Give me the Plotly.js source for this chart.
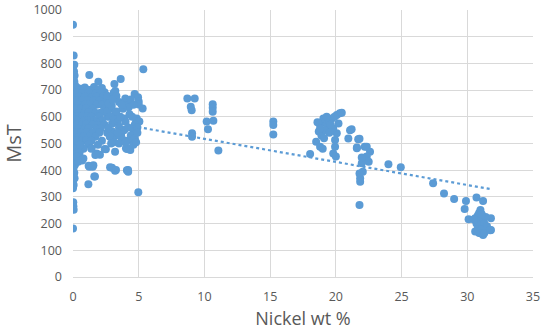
<!DOCTYPE html>
<html>
<head>
<meta charset="utf-8">
<script src="https://cdn.plot.ly/plotly-3.0.1.min.js"></script>
<style>html,body{margin:0;padding:0;background:#fff;}#chart{width:545px;height:332px;}</style>
</head>
<body>
<div id="chart"></div>
<script>
// Column of samples at ~0 wt% Ni
var zeroNi = [0,0.05,0.1,0,0.08,0,0.12,0.05,0,0.1,0.03,0.15,0,0.08,0.12,0,0.05,0.1,0,0.15,0.05,0,0.1,0.03,0.12,0,0.08,0.05,0.1,0,0.15,0.05,0,0.1,0.03,0.12,0,0.08,0.05,0.1,0,0.15,0.05,0,0.1,0.03,0.12,0,0.05,0,0.02,0.03,0.05,0];
var zeroMsT = [945,830,795,780,770,762,755,748,740,732,725,718,710,700,690,680,670,660,650,640,630,620,610,600,590,580,570,560,550,540,530,520,510,500,490,480,470,460,450,440,430,420,410,400,390,380,370,360,345,332,280,265,252,182];

// Dense low-Ni block (0.2 - 2.8 wt%)
var lowNi = [0.3,0.6,0.9,1.3,1.6,2.2, 0.4,0.8,1.1,1.5,1.9,2.4, 0.3,0.7,1.2,1.7,2.1, 0.5,0.9,1.4,1.8,2.3,2.6,
             0.3,0.7,1.1,1.6,2.0,2.5, 0.4,0.9,1.3,1.8,2.2, 0.3,0.6,1.0,1.5,2.4,2.8, 0.5,0.9,1.2,1.7,2.1,
             0.3,0.7,1.1,1.4,2.0,2.6, 0.4,0.8,1.3,1.6,2.2, 0.3,0.7,1.0,1.5,1.9,2.4, 0.4,0.9,1.2,1.8,2.1,
             0.3,0.6,1.1,1.5,2.0,2.6, 0.5,0.8,1.3,1.7, 0.3,0.7,1.0,1.4,2.2, 0.4,0.6,1.2,1.9, 0.3,0.8,1.4, 0.3,0.5, 0.3];
var lowMsT = [710,705,710,700,712,708, 700,698,700,695,700,692, 690,688,690,686,690, 675,675,672,675,675,672,
              660,660,662,660,660,658, 645,645,648,645,645, 630,630,632,630,630,630, 615,615,618,615,615,
              600,600,602,600,600,600, 585,585,588,585,585, 570,570,572,570,570,570, 555,555,558,555,555,
              540,540,542,540,540,540, 525,525,528,525, 510,510,512,510,510, 495,495,497,495, 480,480,482, 465,465, 450];

// Scattered samples 0.4 - 5.4 wt%
var scatNi = [1.24,1.93,3.63,3.15,5.35,3.22,3.1,2.59,3.3,3.98,4.69,4.95,4.1,4.24,5.0,5.0,5.3,4.85,3.9,4.0,3.2,2.6,2.95,4.6,3.9,3.66,2.96,3.2,3.7,4.8,5.05,4.49,4.1,3.86,4.36,4.1,4.03,4.32,3.2,2.5,2.05,1.8,1.7,2.41,0.79,0.7,0.4,1.24,1.55,1.19,1.5,1.62,1.67,1.17,2.82,3.2,2.97,3.27,4.19,4.1,4.2,4.97,0.53,1.4,
              2.8,3.1,3.4,3.6,3.3,3.8,4.3,4.5,4.7,2.7,3.0,3.5,4.2,4.9,4.4,4.7,4.9,3.4,2.8,3.1,3.5,4.0,4.6,4.8,2.7,3.5,3.0,4.4,4.6,3.7,2.9];
var scatMsT = [757,731,742,723,778,697,690,679,678,669,685,673,644,636,657,646,631,594,594,581,613,619,640,551,551,533,546,528,521,582,582,513,510,551,476,479,482,482,469,478,458,463,457,479,444,436,432,413,419,417,413,376,376,347,411,398,409,401,401,400,394,317,494,480,
               600,590,580,600,620,630,610,600,570,560,575,560,560,560,530,520,540,540,525,505,500,505,495,505,650,655,665,665,645,645,500];

// Intermediate Ni 8 - 18 wt%
var midNi = [8.7,9.26,8.96,9.03,9.06,9.06,10.63,10.63,10.63,10.17,10.68,10.27,11.06,15.24,15.24,15.24,18.04];
var midMsT = [669,669,638,625,538,525,647,634,619,582,585,553,474,582,569,534,461];

// High Ni cluster 18 - 25 wt%
var highNi = [18.5,18.8,19.0,19.8,20.0,19.94,19.94,20.07,19.8,19.4,18.8,19.3,19.05,19.7,20.07,20.3,20.45,18.7,18.9,19.2,19.5,19.1,18.6,19.5,20.2,19.9,19.3,18.8,19.6,
              21.08,20.95,21.2,21.7,21.8,21.6,21.6,22.2,22.35,22.6,22.35,22.1,22.5,21.97,21.97,22.05,21.85,21.85,21.8,21.8,24.0,24.94];
var highMsT = [507,488,480,463,451,488,513,538,557,560,569,575,594,594,607,613,615,545,530,550,540,520,580,585,575,600,600,555,570,
               550,519,553,516,518,482,485,488,488,469,451,444,432,426,448,394,370,357,388,270,422,411];

// Very high Ni 27 - 32 wt%
var vhNi = [27.4,28.23,29.0,29.9,29.8,30.7,31.2,30.1,31.8,31.8,31.2,31.0,31.03,30.6,30.8,30.9,31.0,31.2,31.4,30.7,31.0,31.3,30.8,31.1,31.5,30.9,31.3,30.6,31.1,30.5,31.75];
var vhMsT = [351,313,292,285,255,298,285,216,220,176,157,251,164,220,230,240,210,215,225,200,195,200,180,180,190,165,165,170,235,215,175];

// Linear trendline endpoints
var trendNi = [0, 31.8];
var trendMsT = [604, 329];

var xTicks = [0,5,10,15,20,25,30,35];
var yTicks = [0,100,200,300,400,500,600,700,800,900,1000];

var allNi = [].concat(zeroNi, lowNi, scatNi, midNi, highNi, vhNi);
var allMsT = [].concat(zeroMsT, lowMsT, scatMsT, midMsT, highMsT, vhMsT);

var blue = '#5B9BD5';
var font = 'Open Sans, Liberation Sans, sans-serif';

var traces = [
  {x: allNi, y: allMsT, type: 'scatter', mode: 'markers',
   marker: {color: blue, size: 8}, hoverinfo: 'x+y'},
  {x: trendNi, y: trendMsT, type: 'scatter', mode: 'lines',
   line: {color: blue, width: 2.2, dash: 'dot'}, hoverinfo: 'skip'}
];

var layout = {
  width: 545, height: 332,
  margin: {l: 73, r: 12, t: 10, b: 55},
  paper_bgcolor: '#fff', plot_bgcolor: '#fff',
  showlegend: false,
  font: {family: font, color: '#595959', size: 12},
  xaxis: {
    range: [0, 35], tickvals: xTicks, ticktext: xTicks.map(String),
    showgrid: true, gridcolor: '#d9d9d9', gridwidth: 1,
    zeroline: false, showline: true, linecolor: '#d9d9d9', linewidth: 1,
    ticks: '', ticklabelstandoff: 8, tickfont: {family: font, size: 12.5, color: '#595959'},
    title: {text: 'Nickel wt %', font: {family: font, size: 18, color: '#595959'}, standoff: 8},
    fixedrange: true
  },
  yaxis: {
    range: [0, 1000], tickvals: yTicks, ticktext: yTicks.map(String),
    showgrid: true, gridcolor: '#d9d9d9', gridwidth: 1,
    zeroline: false, showline: false,
    ticks: '', ticklabelstandoff: 10, tickfont: {family: font, size: 12.5, color: '#595959'},
    title: {text: 'MsT', font: {family: font, size: 20, color: '#595959'}, standoff: 10},
    fixedrange: true
  }
};

Plotly.newPlot('chart', traces, layout, {staticPlot: true, displayModeBar: false});
</script>
</body>
</html>
